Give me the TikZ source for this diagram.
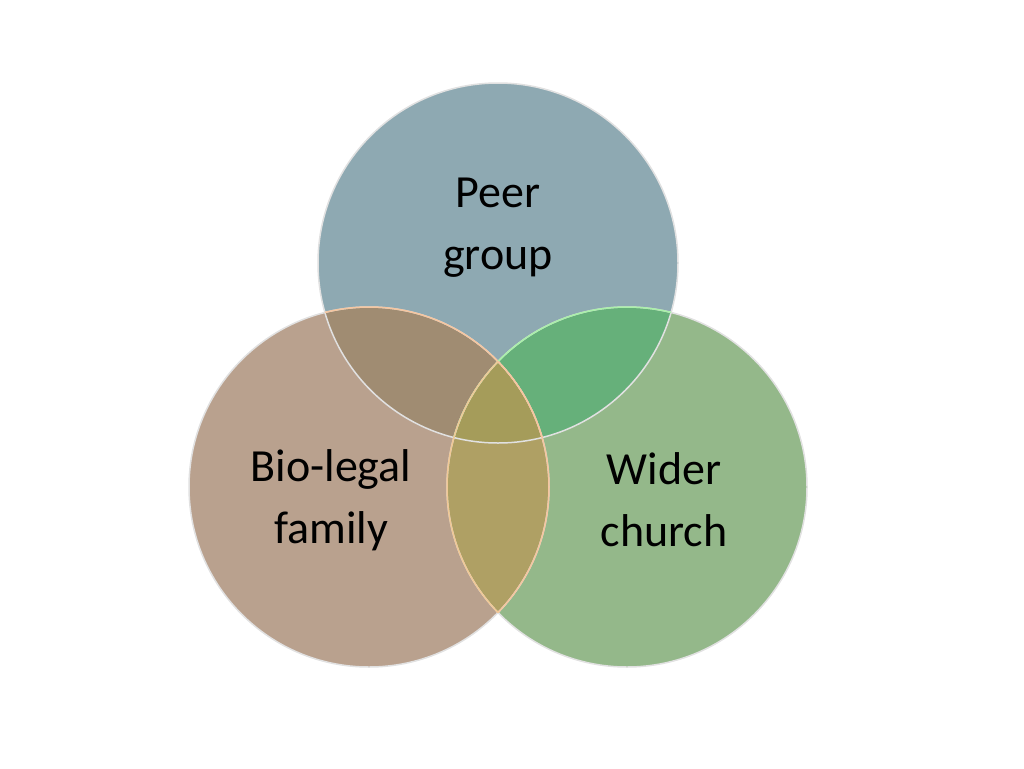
\documentclass[tikz,border=0pt]{standalone}
\usepackage{fontspec}
\setmainfont{Carlito}
\begin{document}
\begin{tikzpicture}[x=1pt,y=-1pt,
  lbl/.style={align=center,font=\fontsize{46}{62}\selectfont,text=black}]
\useasboundingbox (0,0) rectangle (1024,768);
\def\T{(498,263) circle (180)}
\def\L{(369,487) circle (180)}
\def\R{(627,487) circle (180)}
\fill[color={rgb,255:red,142;green,169;blue,178}] \T;
\fill[color={rgb,255:red,185;green,161;blue,142}] \L;
\fill[color={rgb,255:red,148;green,184;blue,138}] \R;
\begin{scope}\clip \T; \fill[color={rgb,255:red,160;green,140;blue,114}] \L; \end{scope}
\begin{scope}\clip \T; \fill[color={rgb,255:red,102;green,176;blue,122}] \R; \end{scope}
\begin{scope}\clip \L; \fill[color={rgb,255:red,175;green,160;blue,100}] \R; \end{scope}
\begin{scope}\clip \T; \clip \L; \fill[color={rgb,255:red,165;green,156;blue,90}] \R; \end{scope}
\draw[line width=1.5pt,color={rgb,255:red,225;green,225;blue,225}] \T \L \R;
\begin{scope}\clip \T; \draw[line width=1.5pt,color={rgb,255:red,245;green,198;blue,160}] \L; \draw[line width=1.5pt,color={rgb,255:red,170;green,240;blue,170}] \R;\end{scope}
\begin{scope}\clip \R; \draw[line width=1.5pt,color={rgb,255:red,245;green,198;blue,160}] \L;\end{scope}
\begin{scope}\clip \L; \draw[line width=1.5pt,color={rgb,255:red,240;green,200;blue,150}] \R;\end{scope}
\node[lbl] (peer) at (498,228) {Peer\\group};
\node[lbl] (bio) at (331,500) {Bio-legal\\family};
\node[lbl] (wider) at (664,500) {Wider\\church};
\end{tikzpicture}
\end{document}
